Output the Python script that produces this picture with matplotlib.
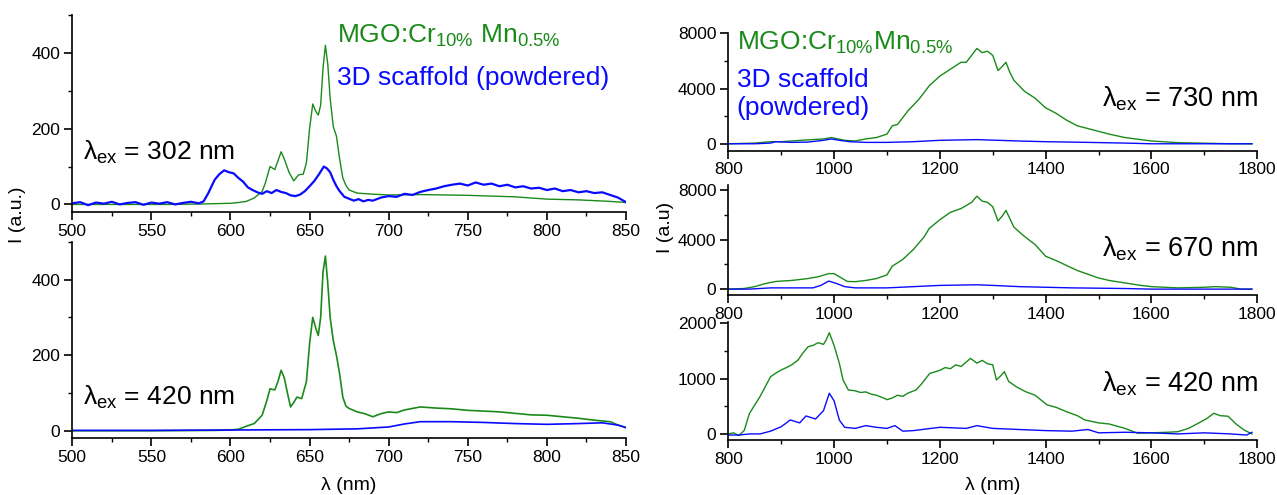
import matplotlib
matplotlib.use('Agg')
import matplotlib.pyplot as plt
from matplotlib.ticker import MultipleLocator

plt.rcParams['font.family'] = ['Liberation Sans', 'DejaVu Sans']
plt.rcParams['mathtext.fontset'] = 'custom'
plt.rcParams['mathtext.rm'] = 'Liberation Sans'
plt.rcParams['mathtext.it'] = 'Liberation Sans:italic'

GREEN = '#1a8a1a'
BLUE = '#0a0aff'

# --- left, lambda_ex = 302 nm ---
x302_g = [500, 520, 540, 560, 580, 590, 600, 605, 610, 615, 620, 622, 625, 628, 630, 632, 634, 637, 640,
          643, 646, 648, 650, 652, 654, 655.5, 657, 658.5, 660, 661.5, 663, 665, 667, 669, 671, 673, 675,
          680, 690, 700, 720, 750, 780, 800, 820, 840, 850]
y302_g = [0, 0, 0, 0, 1, 2, 3, 5, 8, 17, 34, 56, 100, 92, 115, 139, 120, 85, 62,
          78, 80, 110, 200, 265, 245, 236, 262, 360, 420, 370, 280, 205, 180, 120, 70, 50, 38,
          30, 27, 25, 26, 24, 20, 14, 12, 8, 5]
x302_b = [500, 505, 510, 515, 520, 525, 530, 535, 540, 545, 550, 555, 560, 565, 570, 575, 580, 583,
          586, 590, 593, 596, 599, 602, 605, 608, 611, 614, 617, 620, 623, 626, 629, 632, 635, 638,
          641, 644, 647, 650, 653, 656, 659, 661, 663, 665, 667, 669, 672, 675, 678, 681, 684, 687,
          690, 695, 700, 705, 710, 715, 720, 725, 730, 735, 740, 745, 750, 755, 760, 765, 770, 775,
          780, 785, 790, 795, 800, 805, 810, 815, 820, 825, 830, 835, 840, 845, 850]
y302_b = [3, 6, -2, 5, 2, 7, 0, 4, 6, -1, 5, 2, 6, 0, 4, 7, 3, 8,
          30, 65, 80, 90, 85, 82, 70, 60, 45, 38, 32, 28, 35, 30, 38, 33, 30, 24,
          22, 26, 35, 48, 62, 80, 100, 95, 85, 65, 48, 35, 20, 15, 10, 14, 8, 12,
          10, 18, 22, 20, 28, 25, 33, 38, 42, 48, 52, 55, 50, 58, 52, 55, 48, 52,
          45, 48, 42, 44, 38, 42, 35, 38, 32, 35, 30, 32, 25, 18, 6]

# --- left, lambda_ex = 420 nm ---
x420_g = [500, 550, 590, 600, 605, 610, 615, 620, 623, 625, 628, 630, 632, 634, 636, 638, 640, 642, 645,
          648, 650, 652, 654, 655.5, 657, 658.5, 660, 661.5, 663, 665, 667, 669, 671, 673, 675, 680, 685,
          690, 695, 700, 705, 710, 720, 730, 740, 750, 760, 770, 780, 790, 800, 810, 820, 830, 840, 845, 850]
y420_g = [0, 0, 1, 2, 4, 12, 19, 41, 80, 111, 108, 130, 160, 140, 100, 63, 75, 89, 85,
          130, 230, 300, 270, 252, 300, 420, 462, 390, 300, 238, 199, 150, 89, 65, 59, 50, 45,
          37, 45, 50, 48, 55, 63, 60, 58, 54, 52, 50, 46, 42, 41, 37, 33, 28, 24, 15, 9]
x420_b = [500, 550, 600, 650, 680, 700, 710, 720, 740, 760, 780, 800, 820, 835, 845, 850]
y420_b = [1, 1, 2, 3, 5, 10, 18, 24, 24, 22, 19, 17, 19, 21, 15, 8]

# --- right, lambda_ex = 730 nm ---
r730_gx = [800, 850, 880, 900, 950, 980, 995, 1020, 1040, 1060, 1080, 1100, 1110, 1120, 1140, 1160, 1180,
           1200, 1220, 1240, 1250, 1260, 1270, 1280, 1290, 1300, 1310, 1318, 1325, 1332, 1340, 1360,
           1380, 1400, 1420, 1440, 1460, 1480, 1500, 1520, 1550, 1600, 1650, 1700, 1750, 1790]
r730_gy = [0, 50, 150, 150, 280, 350, 450, 250, 200, 350, 450, 700, 1300, 1400, 2400, 3200, 4200,
           4900, 5400, 5900, 5900, 6400, 6900, 6600, 6700, 6400, 5300, 5600, 5900, 5200, 4600, 3800,
           3300, 2600, 2200, 1700, 1300, 1100, 900, 700, 450, 200, 80, 40, 0, 0]
r730_bx = [800, 850, 880, 890, 920, 950, 980, 995, 1010, 1030, 1060, 1100, 1150, 1200, 1270, 1350,
           1400, 1480, 1550, 1600, 1700, 1790]
r730_by = [0, 0, 50, 150, 100, 120, 250, 350, 250, 150, 100, 100, 150, 250, 300, 200,
           150, 100, 50, 0, 0, 0]

# --- right, lambda_ex = 670 nm ---
r670_gx = [800, 830, 850, 870, 890, 920, 950, 970, 990, 1000, 1010, 1025, 1040, 1060, 1080, 1100, 1110,
           1130, 1150, 1170, 1180, 1200, 1220, 1240, 1260, 1270, 1280, 1290, 1300, 1310, 1318, 1325,
           1340, 1360, 1380, 1400, 1420, 1440, 1460, 1480, 1500, 1520, 1550, 1580, 1600, 1650, 1700,
           1720, 1750, 1770, 1790]
r670_gy = [0, 50, 200, 450, 620, 700, 850, 1000, 1250, 1250, 1000, 620, 600, 700, 850, 1150, 1850,
           2400, 3200, 4200, 4900, 5600, 6200, 6500, 7000, 7500, 7100, 7000, 6650, 5500, 5900, 6350,
           5000, 4250, 3600, 2650, 2300, 1900, 1500, 1200, 900, 700, 500, 300, 200, 100, 150,
           200, 150, 0, 0]
r670_bx = [800, 840, 880, 960, 975, 990, 1005, 1020, 1040, 1100, 1150, 1200, 1270, 1300, 1350, 1450,
           1550, 1600, 1790]
r670_by = [0, 0, 100, 100, 300, 650, 450, 200, 100, 100, 200, 300, 350, 300, 200, 100,
           50, 0, 0]

# --- right, lambda_ex = 420 nm ---
r420_gx = [800, 810, 820, 830, 840, 860, 880, 890, 900, 910, 920, 932, 940, 951, 960, 970, 980, 985,
           991, 1000, 1010, 1017, 1027, 1040, 1050, 1060, 1070, 1080, 1095, 1100, 1110, 1120, 1130,
           1140, 1155, 1165, 1181, 1190, 1200, 1210, 1220, 1230, 1240, 1250, 1258, 1270, 1280, 1290,
           1300, 1307, 1315, 1322, 1330, 1345, 1362, 1380, 1403, 1420, 1440, 1460, 1474, 1500, 1520,
           1550, 1574, 1600, 1630, 1650, 1670, 1690, 1705, 1718, 1730, 1745, 1760, 1775, 1790]
r420_gy = [0, 20, -30, 60, 370, 675, 1036, 1100, 1157, 1200, 1250, 1337, 1450, 1578, 1600, 1650, 1620, 1700,
           1831, 1600, 1277, 976, 795, 780, 750, 760, 720, 700, 645, 620, 650, 700, 680,
           740, 795, 900, 1096, 1120, 1150, 1200, 1180, 1250, 1220, 1300, 1367, 1280, 1330, 1270,
           1250, 976, 1050, 1127, 950, 850, 765, 700, 524, 480, 400, 330, 253, 200, 180,
           100, 12, 20, 30, 40, 100, 200, 280, 373, 330, 320, 180, 72, 0]
r420_bx = [800, 820, 840, 860, 880, 900, 910, 917, 935, 947, 965, 980, 991, 1000, 1010, 1020, 1040, 1060,
           1080, 1100, 1115, 1130, 1150, 1200, 1250, 1270, 1300, 1350, 1400, 1450, 1480, 1500, 1550,
           1600, 1650, 1700, 1750, 1780, 1790]
r420_by = [-20, -20, 0, 0, 50, 130, 200, 253, 200, 325, 270, 420, 735, 600, 250, 120, 100, 150,
           120, 100, 150, 50, 60, 120, 100, 150, 100, 80, 60, 50, 80, 20, 30,
           20, 0, 20, 0, -20, 30]


def style(ax, xmaj, xmin, ymaj, ymin):
    for s in ['top', 'right']:
        ax.spines[s].set_visible(False)
    for s in ['left', 'bottom']:
        ax.spines[s].set_linewidth(1.2)
    ax.xaxis.set_major_locator(MultipleLocator(xmaj))
    ax.xaxis.set_minor_locator(MultipleLocator(xmin))
    ax.yaxis.set_major_locator(MultipleLocator(ymaj))
    ax.yaxis.set_minor_locator(MultipleLocator(ymin))
    ax.tick_params(which='major', direction='out', length=6, width=1.2, labelsize=12.5, pad=2.5)
    ax.tick_params(which='minor', direction='out', length=3, width=1.0)
    ax.set_facecolor('none')


fig = plt.figure(figsize=(12.77, 4.95), dpi=100)

ax1 = fig.add_axes([0.0566, 0.5717, 0.4336, 0.398])
ax1.plot(x302_g, y302_g, color=GREEN, lw=1.0)
ax1.plot(x302_b, y302_b, color=BLUE, lw=1.6)
ax1.set_xlim(500, 850)
ax1.set_ylim(-20, 500)
style(ax1, 50, 25, 200, 100)

ax2 = fig.add_axes([0.0566, 0.1145, 0.4336, 0.3972])
ax2.plot(x420_g, y420_g, color=GREEN, lw=1.2)
ax2.plot(x420_b, y420_b, color=BLUE, lw=1.2)
ax2.set_xlim(500, 850)
ax2.set_ylim(-20, 500)
style(ax2, 50, 25, 200, 100)

ax3 = fig.add_axes([0.5703, 0.6956, 0.4142, 0.2372])
ax3.plot(r730_gx, r730_gy, color=GREEN, lw=1.0)
ax3.plot(r730_bx, r730_by, color=BLUE, lw=1.0)
ax3.set_xlim(800, 1800)
ax3.set_ylim(-500, 8000)
style(ax3, 200, 100, 4000, 2000)

ax4 = fig.add_axes([0.5703, 0.4034, 0.4142, 0.2228])
ax4.plot(r670_gx, r670_gy, color=GREEN, lw=1.0)
ax4.plot(r670_bx, r670_by, color=BLUE, lw=1.0)
ax4.set_xlim(800, 1800)
ax4.set_ylim(-500, 8400)
style(ax4, 200, 100, 4000, 2000)

ax5 = fig.add_axes([0.5703, 0.1111, 0.4142, 0.239])
ax5.plot(r420_gx, r420_gy, color=GREEN, lw=1.0)
ax5.plot(r420_bx, r420_by, color=BLUE, lw=1.0)
ax5.set_xlim(800, 1800)
ax5.set_ylim(-110, 2030)
style(ax5, 200, 100, 1000, 500)

# labels and annotations
fs = 19
fig.text(0.2639, 0.913, r'MGO:Cr$_{\mathrm{10\%}}$ Mn$_{\mathrm{0.5\%}}$', color=GREEN, fontsize=fs, va='baseline')
fig.text(0.2639, 0.828, '3D scaffold (powdered)', color=BLUE, fontsize=fs, va='baseline')
fig.text(0.065, 0.677, r'λ$_{\mathrm{ex}}$ = 302 nm', fontsize=19, va='baseline')
fig.text(0.065, 0.1818, r'λ$_{\mathrm{ex}}$ = 420 nm', fontsize=19, va='baseline')

fig.text(0.577, 0.899, r'MGO:Cr$_{\mathrm{10\%}}$Mn$_{\mathrm{0.5\%}}$', color=GREEN, fontsize=fs, va='baseline')
fig.text(0.577, 0.824, '3D scaffold', color=BLUE, fontsize=fs, va='baseline')
fig.text(0.577, 0.768, '(powdered)', color=BLUE, fontsize=fs, va='baseline')
fig.text(0.985, 0.784, r'λ$_{\mathrm{ex}}$ = 730 nm', fontsize=19.5, va='baseline', ha='right')
fig.text(0.985, 0.4814, r'λ$_{\mathrm{ex}}$ = 670 nm', fontsize=19.5, va='baseline', ha='right')
fig.text(0.985, 0.2087, r'λ$_{\mathrm{ex}}$ = 420 nm', fontsize=19.5, va='baseline', ha='right')

fig.text(0.014, 0.566, 'I (a.u.)', fontsize=14, rotation=90, ha='center', va='center')
fig.text(0.521, 0.541, 'I (a.u)', fontsize=14, rotation=90, ha='center', va='center')
fig.text(0.273, 0.02, 'λ (nm)', fontsize=14, ha='center', va='center')
fig.text(0.777, 0.02, 'λ (nm)', fontsize=14, ha='center', va='center')

fig.savefig('out.png', dpi=100)
